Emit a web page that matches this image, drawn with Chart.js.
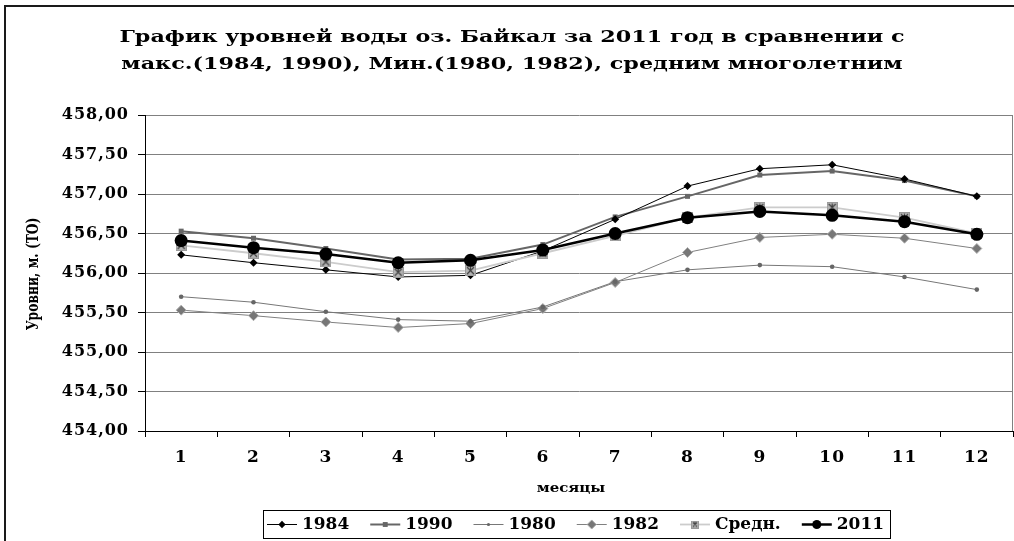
<!DOCTYPE html>
<html><head><meta charset="utf-8">
<script src="https://cdn.jsdelivr.net/npm/chart.js@4.4.0/dist/chart.umd.min.js"></script>
<style>html,body{margin:0;padding:0;background:#fff;}canvas{display:block;}</style>
</head><body>
<canvas id="c" width="1014" height="541"></canvas>
<script>
const months = ['1','2','3','4','5','6','7','8','9','10','11','12'];
const s1984 = [456.23, 456.13, 456.04, 455.95, 455.97, 456.28, 456.68, 457.10, 457.32, 457.37, 457.19, 456.97];
const s1990 = [456.53, 456.44, 456.31, 456.17, 456.18, 456.36, 456.71, 456.97, 457.24, 457.29, 457.17, 456.97];
const s1980 = [455.70, 455.63, 455.51, 455.41, 455.39, 455.57, 455.89, 456.04, 456.10, 456.08, 455.95, 455.79];
const s1982 = [455.53, 455.46, 455.38, 455.31, 455.36, 455.55, 455.88, 456.26, 456.45, 456.49, 456.44, 456.31];
const sMean = [456.35, 456.25, 456.14, 456.01, 456.03, 456.25, 456.47, 456.70, 456.83, 456.83, 456.70, 456.50];
const s2011 = [456.41, 456.32, 456.24, 456.13, 456.16, 456.29, 456.50, 456.70, 456.78, 456.73, 456.65, 456.49];
const seriesNames = ['1984', '1990', '1980', '1982', 'Средн.', '2011'];
const titleLines = ['График уровней воды оз. Байкал за 2011 год в сравнении с',
                    'макс.(1984, 1990), Мин.(1980, 1982), средним многолетним'];
const yAxisTitle = 'Уровни, м. (ТО)';
const xAxisTitle = 'месяцы';
const yMin = 454, yMax = 458, yStep = 0.5;

const FONT = 'DejaVu Serif';

function makeMeanMarker(size) {
  const c = document.createElement('canvas');
  c.width = size; c.height = size;
  const g = c.getContext('2d');
  g.fillStyle = '#b4b4b4';
  g.fillRect(0, 0, size, size);
  g.strokeStyle = '#9a9a9a';
  g.lineWidth = 1;
  g.strokeRect(0.5, 0.5, size - 1, size - 1);
  g.strokeStyle = '#404040';
  g.lineWidth = 1.2;
  g.beginPath();
  g.moveTo(2, 2); g.lineTo(size - 2, size - 2);
  g.moveTo(size - 2, 2); g.lineTo(2, size - 2);
  g.moveTo(size / 2, 1.5); g.lineTo(size / 2, size / 2);
  g.stroke();
  return c;
}
const meanMarker = makeMeanMarker(11);
const meanMarkerSmall = makeMeanMarker(8);

const datasets = [
  {label: seriesNames[0], data: s1984, borderColor: '#000', backgroundColor: '#000', borderWidth: 1,
   pointStyle: 'rectRot', pointRadius: 4, pointBorderWidth: 0, order: 3},
  {label: seriesNames[1], data: s1990, borderColor: '#666', backgroundColor: '#666', borderWidth: 2,
   pointStyle: 'rect', pointRadius: 3.5, pointBorderWidth: 0, order: 4},
  {label: seriesNames[2], data: s1980, borderColor: '#777', backgroundColor: '#666', borderWidth: 1,
   pointStyle: 'circle', pointRadius: 2.3, pointBorderWidth: 0, order: 5},
  {label: seriesNames[3], data: s1982, borderColor: '#808080', backgroundColor: '#777', borderWidth: 1,
   pointStyle: 'rectRot', pointRadius: 5, pointBorderWidth: 1, pointBorderColor: '#b0b0b0', order: 6},
  {label: seriesNames[4], data: sMean, borderColor: '#cccccc', backgroundColor: '#b4b4b4', borderWidth: 1.8,
   pointStyle: meanMarker, pointRadius: 5, order: 2},
  {label: seriesNames[5], data: s2011, borderColor: '#000', backgroundColor: '#000', borderWidth: 2.5,
   pointStyle: 'circle', pointRadius: 6.5, pointBorderWidth: 0, order: 1},
];

const spacingPlugin = {
  id: 'spacing',
  beforeLayout(chart) { chart.ctx.letterSpacing = '1px'; },
  beforeDraw(chart) { chart.ctx.letterSpacing = '1px'; }
};

function stretchedText(ctx, text, cx, cy, sx, sy, rot) {
  ctx.save();
  ctx.translate(cx, cy);
  if (rot) ctx.rotate(rot);
  ctx.scale(sx, sy);
  ctx.textAlign = 'center';
  ctx.textBaseline = 'middle';
  ctx.fillText(text, 0, 0);
  ctx.restore();
}

const decorPlugin = {
  id: 'decor',
  afterDraw(chart) {
    const ctx = chart.ctx;
    const ca = chart.chartArea;
    ctx.save();
    ctx.letterSpacing = '0px';
    // outer border
    ctx.strokeStyle = '#1a1a1a';
    ctx.lineWidth = 2;
    ctx.beginPath();
    ctx.moveTo(5, 541); ctx.lineTo(5, 6); ctx.lineTo(1014, 6);
    ctx.stroke();
    // plot right border
    ctx.strokeStyle = '#808080';
    ctx.lineWidth = 1;
    ctx.beginPath();
    ctx.moveTo(ca.right - 0.5, ca.top); ctx.lineTo(ca.right - 0.5, ca.bottom);
    ctx.stroke();

    ctx.fillStyle = '#000';
    // title
    ctx.font = 'bold 17px "' + FONT + '"';
    const w1 = ctx.measureText(titleLines[0]).width;
    const sx = 785 / w1;
    const ys = [38, 65];
    titleLines.forEach((t, i) => stretchedText(ctx, t, 512, ys[i], sx, 1, 0));

    // axis titles
    ctx.font = 'bold 12.3px "' + FONT + '"';
    stretchedText(ctx, yAxisTitle, 34, 274, 1, 1.3, -Math.PI / 2);
    ctx.font = 'bold 13px "' + FONT + '"';
    stretchedText(ctx, xAxisTitle, 571, 489, 1.15, 1, 0);

    // legend
    const box = {l: 263, r: 890, t: 510, b: 538};
    ctx.strokeStyle = '#000';
    ctx.lineWidth = 1;
    ctx.strokeRect(box.l + 0.5, box.t + 0.5, box.r - box.l, box.b - box.t);
    ctx.font = 'bold 16px "' + FONT + '"';
    ctx.textAlign = 'left';
    ctx.textBaseline = 'middle';
    const tsx = 1.06;
    const lineLen = 30, gapA = 5, gapB = 8;
    const items = chart.data.datasets.map(d => ({d, w: ctx.measureText(d.label).width * tsx}));
    let total = 0;
    items.forEach((it, i) => { total += lineLen + gapA + it.w + (i < items.length - 1 ? gapB : 0); });
    const inner = (box.r - box.l) - 10;
    const extra = (inner - total) / (items.length - 1);
    let x = box.l + 4;
    const cy = (box.t + box.b) / 2 + 0.5;
    items.forEach((it) => {
      const d = it.d;
      ctx.strokeStyle = d.borderColor;
      ctx.lineWidth = d.borderWidth;
      ctx.beginPath();
      ctx.moveTo(x, cy); ctx.lineTo(x + lineLen, cy);
      ctx.stroke();
      const mx = x + lineLen / 2;
      if (d.pointStyle instanceof HTMLCanvasElement) {
        ctx.drawImage(meanMarkerSmall, mx - 4, cy - 4);
      } else {
        ctx.fillStyle = d.backgroundColor;
        ctx.strokeStyle = d.pointBorderColor || d.backgroundColor;
        ctx.lineWidth = d.pointBorderWidth || 0;
        ctx.beginPath();
        const r = d.pointRadius * 0.7;
        if (d.pointStyle === 'circle') { ctx.arc(mx, cy, r, 0, Math.PI * 2); }
        else if (d.pointStyle === 'rect') { ctx.rect(mx - r, cy - r, 2 * r, 2 * r); }
        else { ctx.moveTo(mx, cy - r * 1.3); ctx.lineTo(mx + r * 1.3, cy); ctx.lineTo(mx, cy + r * 1.3); ctx.lineTo(mx - r * 1.3, cy); ctx.closePath(); }
        ctx.fill();
        if (d.pointBorderWidth) ctx.stroke();
      }
      x += lineLen + gapA;
      ctx.fillStyle = '#000';
      ctx.save();
      ctx.translate(x, cy);
      ctx.scale(tsx, 1);
      ctx.fillText(d.label, 0, 0);
      ctx.restore();
      x += it.w + gapB + extra;
    });
    ctx.restore();
  }
};

new Chart(document.getElementById('c'), {
  type: 'line',
  data: {labels: months, datasets},
  options: {
    responsive: false,
    animation: false,
    devicePixelRatio: 1,
    layout: {autoPadding: false, padding: {left: 8, right: 1, top: 115, bottom: 40}},
    plugins: {legend: {display: false}, title: {display: false}, tooltip: {enabled: false}},
    elements: {line: {tension: 0}},
    scales: {
      x: {
        type: 'category',
        offset: true,
        grid: {offset: true, drawOnChartArea: false, drawTicks: true, tickLength: 6, tickColor: '#000'},
        border: {color: '#000', width: 1},
        ticks: {color: '#000', font: {family: FONT, size: 17, weight: 'bold'}, padding: 10, maxRotation: 0},
        title: {display: false, text: xAxisTitle},
        afterFit(s) { s.height = 70; s.paddingLeft = 0; s.paddingRight = 0; }
      },
      y: {
        min: yMin, max: yMax,
        grid: {color: '#808080', tickColor: '#000', tickLength: 7, lineWidth: 1},
        border: {color: '#000', width: 1},
        ticks: {stepSize: yStep, color: '#000', font: {family: FONT, size: 16, weight: 'bold'}, padding: 9,
                callback: v => v.toFixed(2).replace('.', ',')},
        title: {display: false, text: yAxisTitle},
        afterFit(s) { s.width = 137; s.paddingTop = 0; s.paddingBottom = 0; }
      }
    }
  },
  plugins: [spacingPlugin, decorPlugin]
});
</script>
</body></html>
